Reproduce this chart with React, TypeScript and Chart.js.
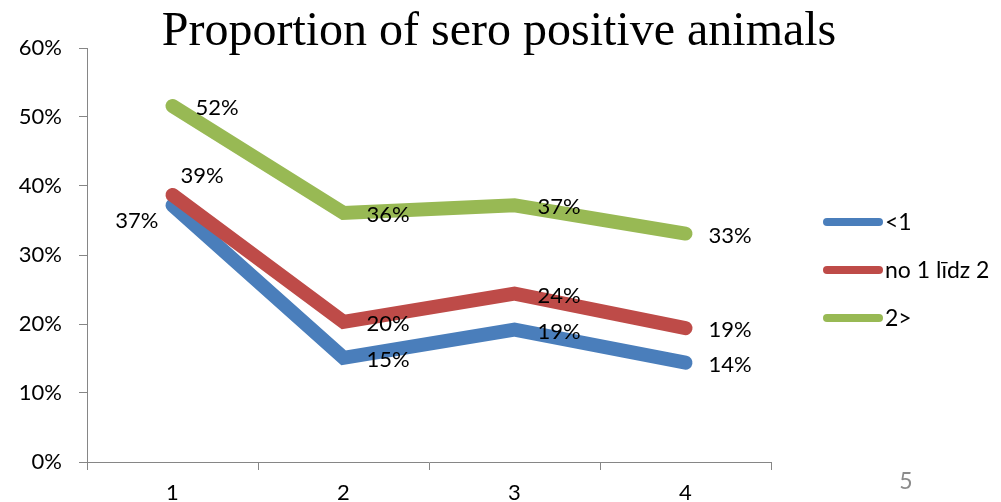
import React, { useEffect, useRef } from "react";
import { Chart, registerables } from "chart.js";

Chart.register(...registerables);

const categories = ["1", "2", "3", "4"];
const seriesNames = ["<1", "no 1 līdz 2", "2>"];
const seriesUnder1 = [0.372, 0.151, 0.192, 0.144];
const series1to2 = [0.387, 0.203, 0.244, 0.194];
const seriesOver2 = [0.516, 0.361, 0.372, 0.331];
const yTicks = [0, 0.1, 0.2, 0.3, 0.4, 0.5, 0.6];
const titleText = "Proportion of sero positive animals";
const slideNumber = "5";

const colors = ["#4A7EBB", "#BE4B48", "#98B954"];
const FAMILY = "Lato, 'Noto Sans', sans-serif";
const LABEL_FONT = "22px " + FAMILY;

// label placement per series/point: r = right, a = above-right, l = left-below
const placement = [
  ["l", "r", "r", "r"],
  ["a", "r", "r", "r"],
  ["r", "r", "r", "r"],
];

const pct = (v: number) => Math.round(v * 100) + "%";

const decorPlugin = {
  id: "decor",
  afterDatasetsDraw(chart: any) {
    const ctx = chart.ctx;
    ctx.save();
    ctx.fillStyle = "#000";
    ctx.font = LABEL_FONT;
    chart.data.datasets.forEach((ds: any, di: number) => {
      const meta = chart.getDatasetMeta(di);
      meta.data.forEach((pt: any, i: number) => {
        const p = placement[di][i];
        const txt = pct(ds.data[i]);
        ctx.textBaseline = "middle";
        if (p === "r") {
          ctx.textAlign = "left";
          ctx.fillText(txt, pt.x + 23, pt.y + 2);
        } else if (p === "a") {
          ctx.textAlign = "left";
          ctx.fillText(txt, pt.x + 8, pt.y - 19);
        } else {
          ctx.textAlign = "right";
          ctx.fillText(txt, pt.x - 14, pt.y + 16);
        }
      });
    });
    ctx.restore();
  },
  afterDraw(chart: any) {
    const ctx = chart.ctx;
    ctx.save();
    // title
    ctx.fillStyle = "#000";
    ctx.font = "48px 'Liberation Serif', 'Times New Roman', serif";
    ctx.textAlign = "center";
    ctx.textBaseline = "alphabetic";
    ctx.fillText(titleText, 499, 45);
    // legend
    const lx = 823;
    const ys = [222, 270, 318];
    seriesNames.forEach((name, i) => {
      ctx.strokeStyle = colors[i];
      ctx.lineWidth = 8;
      ctx.lineCap = "round";
      ctx.beginPath();
      ctx.moveTo(lx + 4, ys[i]);
      ctx.lineTo(lx + 56, ys[i]);
      ctx.stroke();
      ctx.fillStyle = "#000";
      ctx.font = "23px " + FAMILY;
      ctx.textAlign = "left";
      ctx.textBaseline = "middle";
      ctx.fillText(name, lx + 62, ys[i] + 1);
    });
    // slide number
    ctx.fillStyle = "#8B8B8B";
    ctx.font = "23px " + FAMILY;
    ctx.textAlign = "center";
    ctx.textBaseline = "middle";
    ctx.fillText(slideNumber, 906, 482);
    ctx.restore();
  },
};

export default function App() {
  const ref = useRef<HTMLCanvasElement | null>(null);
  useEffect(() => {
    if (!ref.current) return;
    const datasets = [seriesUnder1, series1to2, seriesOver2].map((d, i) => ({
      label: seriesNames[i],
      data: d,
      borderColor: colors[i],
      backgroundColor: colors[i],
      borderWidth: 14,
      borderCapStyle: "round" as const,
      borderJoinStyle: "miter" as const,
      pointRadius: 0,
      pointHoverRadius: 0,
      tension: 0,
      order: 3 - i,
    }));
    const chart = new Chart(ref.current, {
      type: "line",
      data: { labels: categories, datasets },
      options: {
        responsive: false,
        animation: false,
        events: [],
        layout: { padding: { top: 48, right: 230, left: 0, bottom: 0 } },
        plugins: {
          legend: { display: false },
          title: { display: false },
          tooltip: { enabled: false },
        },
        scales: {
          x: {
            type: "category",
            offset: true,
            border: { color: "#868686", width: 1 },
            grid: {
              offset: true,
              drawOnChartArea: false,
              drawTicks: true,
              tickLength: 8,
              color: "#868686",
            },
            ticks: {
              color: "#000",
              font: { family: FAMILY, size: 22 },
              padding: 10,
              maxRotation: 0,
            },
            afterFit: (s: any) => {
              s.height = 40;
            },
          },
          y: {
            min: yTicks[0],
            max: yTicks[yTicks.length - 1],
            border: { color: "#868686", width: 1 },
            grid: {
              drawOnChartArea: false,
              drawTicks: true,
              tickLength: 8,
              color: "#868686",
            },
            afterBuildTicks: (s: any) => {
              s.ticks = yTicks.map((v) => ({ value: v }));
            },
            ticks: {
              color: "#000",
              font: { family: FAMILY, size: 22 },
              padding: 17,
              callback: (v: any) => pct(Number(v)),
            },
            afterFit: (s: any) => {
              s.width = 87;
            },
          },
        },
      },
      plugins: [decorPlugin],
    });
    return () => chart.destroy();
  }, []);
  return (
    <div style={{ position: "absolute", left: 0, top: 0, width: 1001, height: 502, background: "#fff" }}>
      <canvas ref={ref} width={1001} height={502} style={{ display: "block" }} />
    </div>
  );
}
